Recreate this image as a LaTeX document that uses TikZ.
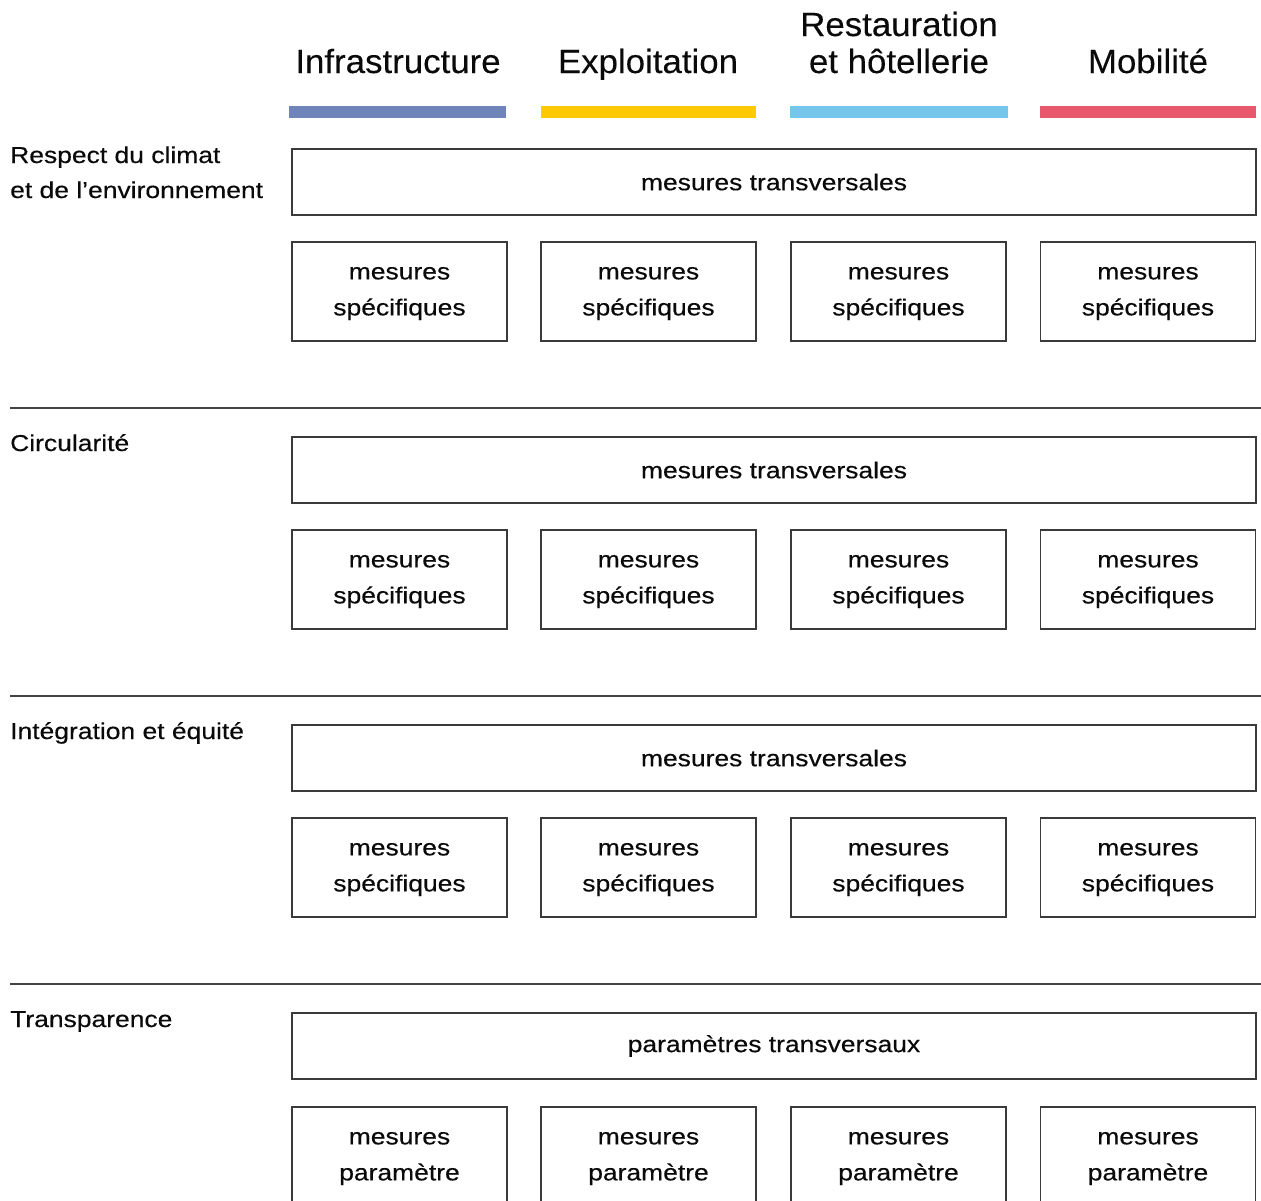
\documentclass[tikz,border=0pt]{standalone}
\usepackage{fontspec}
\newfontfamily\bodyfont[FakeStretch=1.15,FakeBold=0.35]{Liberation Sans}
\newfontfamily\headfont[FakeStretch=1.04,FakeBold=0.2]{Liberation Sans}
\definecolor{inkc}{HTML}{0A0A0A}
\definecolor{boxc}{HTML}{3A3A3A}
\definecolor{sepc}{HTML}{444444}
\definecolor{barA}{HTML}{6F84B8}
\definecolor{barB}{HTML}{FFC800}
\definecolor{barC}{HTML}{76C5EA}
\definecolor{barD}{HTML}{E8596E}
\newcommand{\topstrut}{\rule{0pt}{16.5pt}}
\begin{document}
\begin{tikzpicture}[x=1pt,y=-1pt,
  hdr/.style={font=\headfont\fontsize{33.5}{37}\selectfont, text=inkc, inner sep=0pt, anchor=base, align=center},
  lbl/.style={font=\bodyfont\fontsize{23}{35}\selectfont, text=inkc, inner sep=0pt, anchor=base west, align=left},
  box/.style={draw=boxc, line width=1.3pt, font=\bodyfont\fontsize{23}{36}\selectfont, text=inkc, align=center, inner sep=0pt},
  tbox/.style={box, minimum width=964pt, minimum height=66pt},
  sbox/.style={box, minimum width=215pt, minimum height=99pt},
  sepline/.style={draw=sepc, line width=1.2pt}]
\useasboundingbox (0,0) rectangle (1261,1200);
\clip (0,0) rectangle (1261,1200);
\fill[white] (0,0) rectangle (1261,1200);

% column headers
\node[hdr] (hA) at (398,73) {Infrastructure};
\node[hdr] (hB) at (648,73) {Exploitation};
\node[hdr] (hC) at (899,73) {Restauration\\et hôtellerie};
\node[hdr] (hD) at (1148,73) {Mobilité};

% colour bars
\fill[barA] (289,106) rectangle (506,118);
\fill[barB] (541,106) rectangle (756,118);
\fill[barC] (790,106) rectangle (1008,118);
\fill[barD] (1040,106) rectangle (1256,118);

% section labels
\node[lbl] (l1) at (10,198) {Respect du climat\\et de l’environnement};
\node[lbl] (l2) at (10,451) {Circularité};
\node[lbl] (l3) at (10,739) {Intégration et équité};
\node[lbl] (l4) at (10,1027) {Transparence};

% transversal boxes
\node[tbox] (t1) at (774,182) {mesures transversales};
\node[tbox] (t2) at (774,470) {mesures transversales};
\node[tbox] (t3) at (774,758) {mesures transversales};
\node[tbox] (t4) at (774,1046) {paramètres transversaux};

% specific boxes
\foreach \s/\o in {1/0,2/288,3/576}{
  \node[sbox] (s\s a) at (399.5,291.5+\o) {\topstrut mesures\\spécifiques};
  \node[sbox] (s\s b) at (648.5,291.5+\o) {\topstrut mesures\\spécifiques};
  \node[sbox] (s\s c) at (898.5,291.5+\o) {\topstrut mesures\\spécifiques};
  \node[sbox] (s\s d) at (1148,291.5+\o) {\topstrut mesures\\spécifiques};
}
\node[sbox] (s4a) at (399.5,1156.5) {\topstrut mesures\\paramètre};
\node[sbox] (s4b) at (648.5,1156.5) {\topstrut mesures\\paramètre};
\node[sbox] (s4c) at (898.5,1156.5) {\topstrut mesures\\paramètre};
\node[sbox] (s4d) at (1148,1156.5) {\topstrut mesures\\paramètre};

% separators
\foreach \y [count=\i] in {408,696,984}{
  \coordinate (p\i l) at (10,\y);
  \coordinate (p\i r) at (1261,\y);
  \draw[sepline] (p\i l) -- (p\i r);
}
\end{tikzpicture}
\end{document}
